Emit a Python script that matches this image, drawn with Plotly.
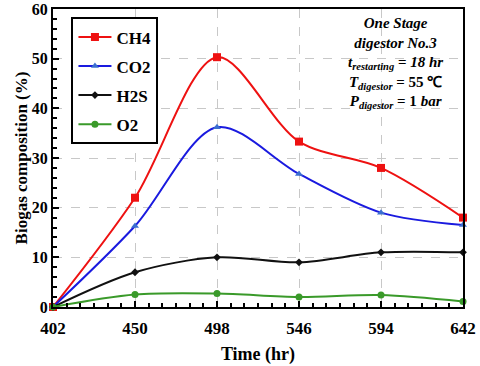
import plotly.graph_objects as go

# Data
time_hr = [402, 450, 498, 546, 594, 642]
ch4 = [0, 22, 50.3, 33.3, 28, 18]
co2 = [0, 16.3, 36.2, 26.8, 19, 16.5]
h2s = [0, 7, 10, 9, 11, 11]
o2 = [0, 2.5, 2.7, 2, 2.4, 1.1]

series = [
    ("CH4", ch4, "#ee1111", "#ee1111", "square", 8),
    ("CO2", co2, "#1a1adf", "#3b6fd0", "triangle-up", 7),
    ("H2S", h2s, "#111111", "#111111", "diamond", 6),
    ("O2", o2, "#3a9a2a", "#3a9a2a", "circle", 7),
]

fig = go.Figure()
for name, vals, color, mcolor, sym, size in series:
    fig.add_trace(go.Scatter(
        x=time_hr, y=vals, name=name, mode="lines+markers", legendgroup=name,
        line=dict(color=color, width=2, shape="spline", smoothing=0.9),
        marker=dict(symbol=sym, size=size, color=mcolor),
        cliponaxis=False,
    ))

serif = "Liberation Serif, Times New Roman, serif"

fig.add_annotation(
    x=0.835, y=0.985, xref="paper", yref="paper", xanchor="center", yanchor="top",
    showarrow=False, align="center",
    text=("<b><i>One Stage</i></b><br><b><i>digestor No.3</i></b><br>"
          "<b><i>t</i><sub><i>restarting</i></sub> = <i>18 hr</i></b><br>"
          "<b><i>T</i><sub><i>digestor</i></sub> = 55 ℃</b><br>"
          "<b><i>P</i><sub><i>digestor</i></sub> = 1 <i>bar</i></b>"),
    font=dict(family=serif, size=15, color="black"),
)

fig.update_layout(
    width=480, height=366,
    margin=dict(l=53, r=17, t=9, b=59),
    plot_bgcolor="white", paper_bgcolor="white",
    font=dict(family=serif, size=16, color="black"),
    legend=dict(
        x=0.045, y=0.972, xanchor="left", yanchor="top",
        bordercolor="black", borderwidth=2, bgcolor="white",
        font=dict(family=serif, size=17, color="black", weight="bold"),
        tracegroupgap=4, itemwidth=33,
    ),
    xaxis=dict(
        range=[402, 642], tickvals=time_hr, ticks="inside", ticklen=6,
        tickwidth=2, tickcolor="black", automargin=False, ticklabeloverflow="allow",
        ticklabelstandoff=5,
        minor=dict(dtick=8, tick0=402, ticks="inside", ticklen=4, tickcolor="black", showgrid=False),
        showline=True, linecolor="black", linewidth=2, mirror=True,
        showgrid=True, gridcolor="#c8c8c8", griddash="dash", gridwidth=1,
        tickfont=dict(family=serif, size=17, weight="bold"),
        title=dict(text="<b>Time (hr)</b>", font=dict(family=serif, size=18), standoff=10),
        zeroline=False,
    ),
    yaxis=dict(
        range=[0, 60], dtick=10, ticks="inside", ticklen=6,
        tickwidth=2, tickcolor="black", automargin=False, ticklabeloverflow="allow",
        minor=dict(dtick=2, ticks="inside", ticklen=4, tickcolor="black", showgrid=False),
        showline=True, linecolor="black", linewidth=2, mirror=True,
        showgrid=True, gridcolor="#c8c8c8", griddash="dash", gridwidth=1,
        tickfont=dict(family=serif, size=16, weight="bold"),
        title=dict(text="<b>Biogas composition (%)</b>", font=dict(family=serif, size=17), standoff=0),
        zeroline=False,
    ),
)

# drop the default 8px page margin so the figure fills the window
fig.write_html("out.html", config={"displayModeBar": False},
               post_script="document.body.style.margin='0';")
print("completed")
